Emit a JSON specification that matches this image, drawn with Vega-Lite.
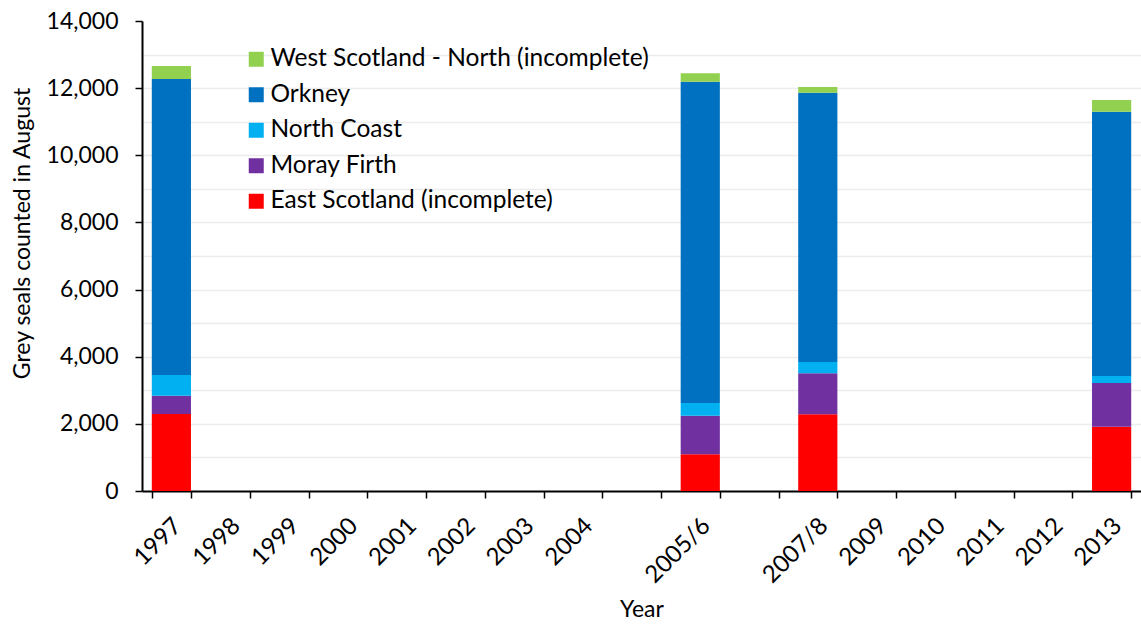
{
  "$schema": "https://vega.github.io/schema/vega-lite/v6.json",
  "width": 999,
  "height": 470,
  "autosize": {"type": "none"},
  "padding": {"left": 142, "top": 21, "right": 0, "bottom": 135},
  "background": "white",
  "config": {"view": {"stroke": null}, "font": "Lato"},
  "data": {
    "values": [
      {"year": "1997", "region": "East Scotland (incomplete)", "count": 2294},
      {"year": "1997", "region": "Moray Firth", "count": 545},
      {"year": "1997", "region": "North Coast", "count": 616},
      {"year": "1997", "region": "Orkney", "count": 8818},
      {"year": "1997", "region": "West Scotland - North (incomplete)", "count": 387},
      {"year": "2005/6", "region": "East Scotland (incomplete)", "count": 1093},
      {"year": "2005/6", "region": "Moray Firth", "count": 1150},
      {"year": "2005/6", "region": "North Coast", "count": 378},
      {"year": "2005/6", "region": "Orkney", "count": 9572},
      {"year": "2005/6", "region": "West Scotland - North (incomplete)", "count": 250},
      {"year": "2007/8", "region": "East Scotland (incomplete)", "count": 2285},
      {"year": "2007/8", "region": "Moray Firth", "count": 1221},
      {"year": "2007/8", "region": "North Coast", "count": 337},
      {"year": "2007/8", "region": "Orkney", "count": 8022},
      {"year": "2007/8", "region": "West Scotland - North (incomplete)", "count": 170},
      {"year": "2013", "region": "East Scotland (incomplete)", "count": 1915},
      {"year": "2013", "region": "Moray Firth", "count": 1302},
      {"year": "2013", "region": "North Coast", "count": 209},
      {"year": "2013", "region": "Orkney", "count": 7873},
      {"year": "2013", "region": "West Scotland - North (incomplete)", "count": 348}
    ]
  },
  "transform": [
    {"calculate": "indexof(['East Scotland (incomplete)','Moray Firth','North Coast','Orkney','West Scotland - North (incomplete)'], datum.region)", "as": "stackOrder"}
  ],
  "mark": {"type": "bar"},
  "encoding": {
    "x": {
      "field": "year",
      "type": "nominal",
      "scale": {
        "domain": ["1997","1998","1999","2000","2001","2002","2003","2004","gap1","2005/6","gap2","2007/8","2009","2010","2011","2012","2013"],
        "paddingInner": 0.3333,
        "paddingOuter": 0.16667
      },
      "axis": {
        "title": "Year",
        "titleFont": "Lato",
        "titleFontSize": 23,
        "titleFontWeight": "normal",
        "titleColor": "black",
        "titleY": 107,
        "titleBaseline": "top",
        "labelExpr": "indexof(['gap1','gap2'], datum.value) >= 0 ? '' : datum.label",
        "labelAngle": -45,
        "labelAlign": "right",
        "labelBaseline": "middle",
        "labelFontSize": 24,
        "labelColor": "black",
        "labelPadding": 24,
        "labelOffset": 6,
        "labelOverlap": false,
        "tickBand": "extent",
        "tickSize": 7,
        "tickColor": "black",
        "tickWidth": 1.5,
        "domainColor": "black",
        "domainWidth": 2,
        "grid": false
      }
    },
    "y": {
      "field": "count",
      "type": "quantitative",
      "stack": "zero",
      "scale": {"domain": [0, 14000], "nice": false},
      "axis": {
        "title": "Grey seals counted in August",
        "titleFontSize": 23,
        "titleFontWeight": "normal",
        "titleColor": "black",
        "titleX": -108,
        "titleY": 212,
        "values": [0,1000,2000,3000,4000,5000,6000,7000,8000,9000,10000,11000,12000,13000,14000],
        "labelExpr": "datum.value % 2000 === 0 ? format(datum.value, ',') : ''",
        "labelFontSize": 23,
        "labelColor": "black",
        "labelPadding": 17,
        "tickSize": 7,
        "tickColor": "black",
        "tickWidth": 1.5,
        "tickOpacity": {"condition": {"test": "datum.value % 2000 === 0", "value": 1}, "value": 0},
        "domainColor": "black",
        "domainWidth": 2,
        "grid": true,
        "gridColor": "#ececec",
        "gridWidth": 1.5,
        "gridOpacity": {"condition": {"test": "datum.value === 14000", "value": 0}, "value": 1}
      }
    },
    "color": {
      "field": "region",
      "type": "nominal",
      "scale": {
        "domain": ["West Scotland - North (incomplete)", "Orkney", "North Coast", "Moray Firth", "East Scotland (incomplete)"],
        "range": ["#92D050", "#0070C0", "#00B0F0", "#7030A0", "#FF0000"]
      },
      "legend": {
        "orient": "none",
        "legendX": 102,
        "legendY": 26,
        "direction": "vertical",
        "title": null,
        "padding": 0,
        "symbolType": "square",
        "symbolSize": 225,
        "symbolStrokeWidth": 0,
        "symbolOpacity": 1,
        "labelFontSize": 24.5,
        "labelColor": "black",
        "labelOffset": 2,
        "labelLimit": 0,
        "rowPadding": 10.5
      }
    },
    "order": {"field": "stackOrder", "type": "quantitative", "sort": "ascending"}
  }
}
